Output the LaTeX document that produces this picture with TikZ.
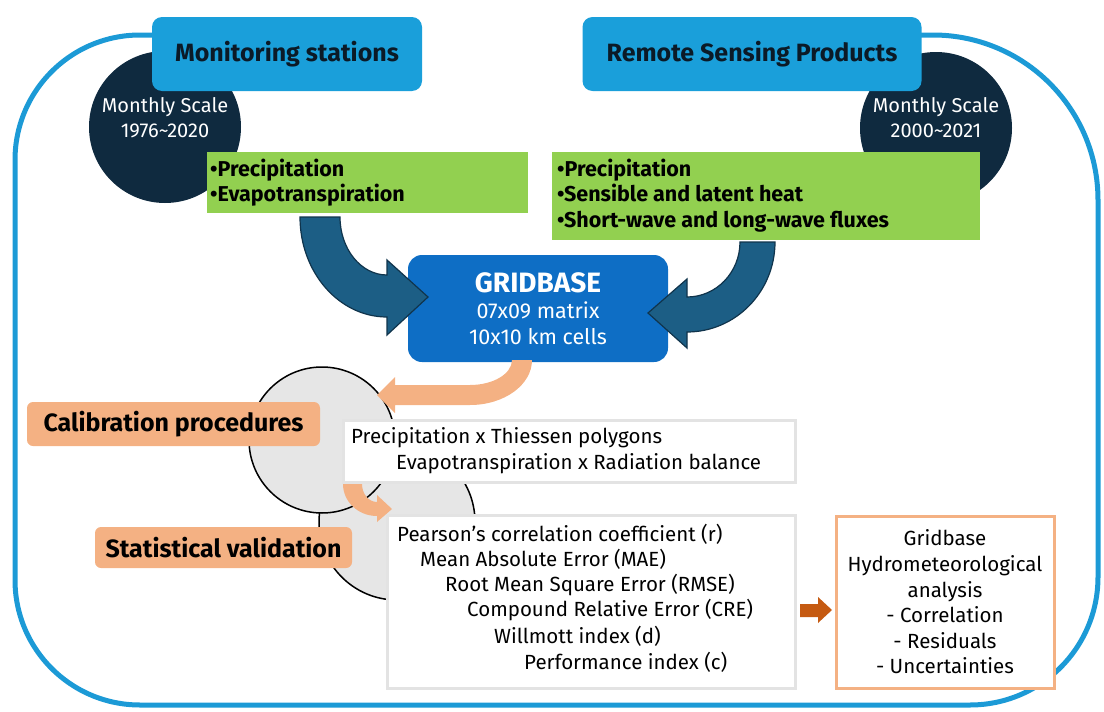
\documentclass[tikz,border=0pt]{standalone}
\usepackage{fontspec}
\setmainfont{Fira Sans}
\usepackage{xcolor}
\usepackage{tikz}
\definecolor{frameblue}{HTML}{1C9AD6}
\definecolor{headblue}{HTML}{1A9FDA}
\definecolor{headtext}{HTML}{0B1A27}
\definecolor{navy}{HTML}{0F2A3F}
\definecolor{leafgreen}{HTML}{92D050}
\definecolor{gridblue}{HTML}{0E6EC5}
\definecolor{arrowblue}{HTML}{1C5E85}
\definecolor{arrowline}{HTML}{10344C}
\definecolor{salmon}{HTML}{F4B183}
\definecolor{rust}{HTML}{C55A11}
\definecolor{phasegrey}{HTML}{E6E6E6}
\definecolor{boxgrey}{HTML}{E3E3E3}

\begin{document}
\begin{tikzpicture}[x=1pt,y=-1pt, font=\fontsize{20.5}{25.6}\selectfont,
  head/.style={fill=headblue, rounded corners=10pt, text=headtext,
    font=\fontsize{25}{28}\selectfont\bfseries},
  scalecirc/.style={circle, fill=navy, minimum size=152pt, inner sep=0pt},
  scaletext/.style={text=white, align=center, inner sep=0pt,
    font=\fontsize{20}{25}\selectfont},
  varbox/.style={fill=leafgreen, inner sep=0pt},
  vartext/.style={anchor=west, align=left, inner sep=0pt,
    font=\fontsize{21.5}{25.5}\selectfont\bfseries},
  bendarrow/.style={fill=arrowblue, draw=arrowline, line width=1.2pt},
  phase/.style={circle, draw=black, line width=1.5pt, fill=phasegrey, inner sep=0pt},
  proclabel/.style={fill=salmon, rounded corners=6pt,
    font=\fontsize{25}{28}\selectfont\bfseries},
  methodbox/.style={draw=boxgrey, line width=3pt, fill=white, inner sep=0pt},
  linetext/.style={anchor=west, inner sep=0pt}]
 \useasboundingbox (0,0) rectangle (1104,712);
 \draw[frameblue, line width=5pt] (175,35) -- (140,35)
   arc[start angle=270, end angle=180, radius=125] -- (15,580)
   arc[start angle=180, end angle=90, radius=125] -- (970,705)
   arc[start angle=90, end angle=0, radius=128] -- (1098,200)
   arc[start angle=0, end angle=-90, radius=165] -- (900,35);
 \node[scalecirc] (stcirc) at (165,127) {};
 \node[scalecirc] (rscirc) at (936,128) {};
 \node[scaletext] (sttime) at (165,118) {Monthly Scale\\1976\textasciitilde 2020};
 \node[scaletext] (rstime) at (936,118) {Monthly Scale\\2000\textasciitilde 2021};
 \node[head, minimum width=270pt, minimum height=74pt] (stations) at (287,54) {Monitoring stations};
 \node[head, minimum width=339pt, minimum height=74pt] (remote) at (752,54) {Remote Sensing Products};
 \node[varbox, minimum width=321pt, minimum height=61pt] (stvars) at (367.5,182.5) {};
 \node[varbox, minimum width=428pt, minimum height=88pt] (rsvars) at (766,196) {};
 \node[vartext] (stlist) at (210,182.5) {•Precipitation\\•Evapotranspiration};
 \node[vartext] (rslist) at (557,195.5)
   {•Precipitation\\•Sensible and latent heat\\•Short-wave and long-wave fluxes};
 \node[fill=gridblue, rounded corners=14pt, minimum width=260pt, minimum height=107pt,
   text=white, align=center, font=\fontsize{21.5}{26}\selectfont] (grid) at (538,308.5)
   {{\fontsize{28}{30}\selectfont\bfseries GRIDBASE}\\07x09 matrix\\10x10 km cells};
 \draw[bendarrow] (300,217) arc[start angle=180, end angle=90, x radius=87, y radius=100]
   -- (387,335) -- (428,297) -- (387,260) -- (387,275)
   arc[start angle=90, end angle=180, x radius=47, y radius=58] -- cycle;
 \draw[bendarrow] (775,242) arc[start angle=0, end angle=90, x radius=88, y radius=90]
   -- (687,348) -- (648,313) -- (687,279) -- (687,297)
   arc[start angle=90, end angle=0, x radius=53, y radius=55] -- cycle;
 \node[phase, minimum size=156pt] (valid) at (397,522) {};
 \node[phase, minimum size=146pt] (calib) at (322,440) {};
 \fill[salmon] (532,360) arc[start angle=0, end angle=90, x radius=62, y radius=45]
   -- (395,405) -- (395,413) -- (377,395) -- (395,377) -- (395,385) -- (470,385)
   arc[start angle=90, end angle=0, x radius=42, y radius=25] -- cycle;
 \node[methodbox, minimum width=452pt, minimum height=62pt] (calbox) at (569,451) {};
 \node[methodbox, minimum width=408pt, minimum height=173pt] (valbox) at (591,601.5) {};
 \node[linetext] (thiessen) at (351,438) {Precipitation x Thiessen polygons};
 \node[linetext] (radbal) at (396,464) {Evapotranspiration x Radiation balance};
 \foreach \x/\y/\t [count=\i] in {397/534/Pearson’s correlation coefficient (r),
   420/559/Mean Absolute Error (MAE), 445/585/Root Mean Square Error (RMSE),
   467/610/Compound Relative Error (CRE), 494/636/Willmott index (d),
   524/662/Performance index (c)}
   \node[linetext] (metric\i) at (\x,\y) {\t};
 \node[proclabel, minimum width=293pt, minimum height=44pt] (calproc) at (173.5,424) {Calibration procedures};
 \node[proclabel, minimum width=257pt, minimum height=41pt] (statval) at (223.5,547.5) {Statistical validation};
 \fill[salmon] (343,484) arc[start angle=180, end angle=90, x radius=34, y radius=32]
   -- (377,522) -- (392,509) -- (377,495) -- (377,502)
   arc[start angle=90, end angle=180, x radius=15, y radius=18] -- cycle;
 \fill[rust] (800,604) -- (818,604) -- (818,597) -- (832,610) -- (818,623)
   -- (818,617) -- (800,617) -- cycle;
 \node[draw=salmon, line width=3pt, fill=white, minimum width=218pt, minimum height=172pt,
   align=center] (result) at (945,602)
   {Gridbase\\Hydrometeorological\\analysis\\- Correlation\\- Residuals\\- Uncertainties};
\end{tikzpicture}
\end{document}
